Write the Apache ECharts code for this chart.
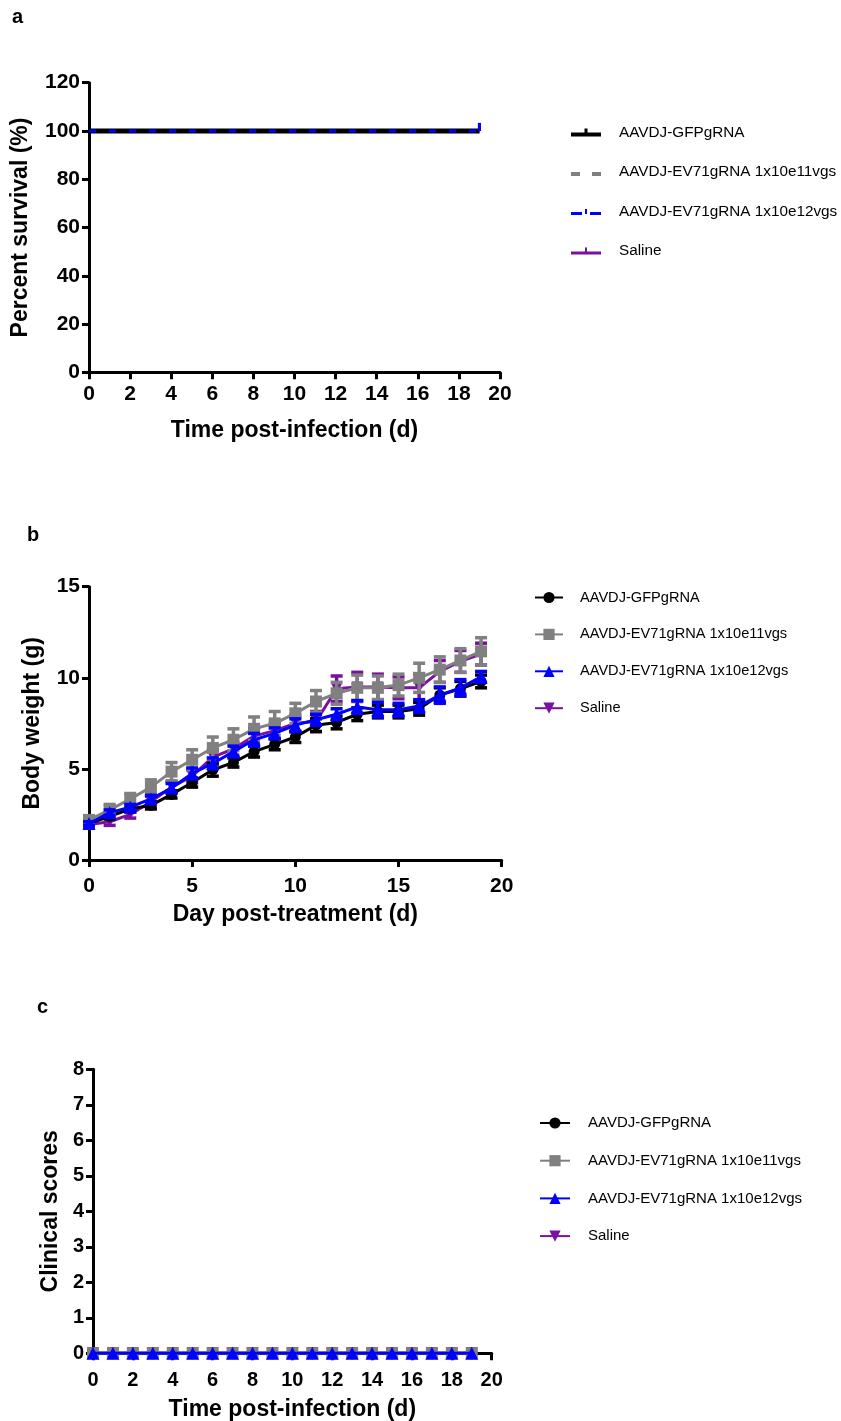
<!DOCTYPE html>
<html><head><meta charset="utf-8">
<script src="https://cdn.jsdelivr.net/npm/echarts@6/dist/echarts.min.js"></script>
<style>html,body{margin:0;padding:0;background:#fff;width:841px;height:1421px;overflow:hidden}
.c{position:absolute;left:0;width:841px}</style></head>
<body>
<div id="pa" class="c" style="top:0;height:480px"></div>
<div id="pb" class="c" style="top:480px;height:480px"></div>
<div id="pc" class="c" style="top:960px;height:461px"></div>
<script>
// ---------- data ----------
const seriesNames = ['AAVDJ-GFPgRNA', 'AAVDJ-EV71gRNA 1x10e11vgs', 'AAVDJ-EV71gRNA 1x10e12vgs', 'Saline'];

// panel a: survival
const survivalDays = [0, 19];
const gfpSurvival = [100, 100];
const ev11Survival = [100, 100];
const ev12Survival = [100, 100];
const salineSurvival = [100, 100];

// panel b: body weight (mean, SEM)
const days = [0, 1, 2, 3, 4, 5, 6, 7, 8, 9, 10, 11, 12, 13, 14, 15, 16, 17, 18, 19];
const gfpWeight = [2.0, 2.4, 2.8, 3.0, 3.6, 4.25, 4.95, 5.35, 5.95, 6.35, 6.75, 7.4, 7.55, 8.0, 8.15, 8.15, 8.3, 9.05, 9.4, 9.8];
const gfpErr = [0.1, 0.15, 0.15, 0.2, 0.2, 0.25, 0.35, 0.25, 0.3, 0.3, 0.3, 0.35, 0.35, 0.35, 0.35, 0.35, 0.35, 0.4, 0.4, 0.35];
const ev11Weight = [2.2, 2.75, 3.35, 4.0, 4.85, 5.5, 6.15, 6.6, 7.2, 7.5, 8.05, 8.7, 9.15, 9.45, 9.45, 9.6, 10.0, 10.45, 10.95, 11.45];
const ev11Err = [0.2, 0.3, 0.3, 0.4, 0.5, 0.55, 0.6, 0.6, 0.65, 0.65, 0.55, 0.6, 0.6, 0.7, 0.65, 0.6, 0.8, 0.7, 0.65, 0.75];
const ev12Weight = [2.0, 2.6, 2.9, 3.35, 3.95, 4.75, 5.3, 5.95, 6.6, 6.95, 7.4, 7.7, 8.0, 8.4, 8.25, 8.25, 8.45, 9.05, 9.45, 10.05];
const ev12Err = [0.1, 0.15, 0.15, 0.2, 0.25, 0.3, 0.3, 0.3, 0.35, 0.3, 0.35, 0.3, 0.3, 0.35, 0.4, 0.35, 0.35, 0.45, 0.45, 0.3];
const salineWeight = [1.95, 2.1, 2.5, 3.2, 4.0, 4.6, 5.65, 6.1, 6.8, 7.1, 7.5, 7.6, 9.4, 9.5, 9.5, 9.45, 9.45, 10.35, 10.9, 11.3];
const salineErr = [0.15, 0.2, 0.2, 0.3, 0.3, 0.35, 0.4, 0.35, 0.4, 0.4, 0.45, 0.55, 0.7, 0.8, 0.7, 0.6, 0.75, 0.6, 0.6, 0.6];

// panel c: clinical scores
const gfpScore = [0, 0, 0, 0, 0, 0, 0, 0, 0, 0, 0, 0, 0, 0, 0, 0, 0, 0, 0, 0];
const ev11Score = [0, 0, 0, 0, 0, 0, 0, 0, 0, 0, 0, 0, 0, 0, 0, 0, 0, 0, 0, 0];
const ev12Score = [0, 0, 0, 0, 0, 0, 0, 0, 0, 0, 0, 0, 0, 0, 0, 0, 0, 0, 0, 0];
const salineScore = [0, 0, 0, 0, 0, 0, 0, 0, 0, 0, 0, 0, 0, 0, 0, 0, 0, 0, 0, 0];

// ---------- style ----------
const FONT = 'Liberation Sans, Arial, sans-serif';
const BLACK = '#000000', GRAY = '#808080', BLUE = '#0000ff', PURPLE = '#7a0fa0';

function label(size, margin) {
  return { color: '#000', fontWeight: 'bold', fontSize: size, fontFamily: FONT, margin: margin };
}
function axis(opts) {
  return Object.assign({
    type: 'value',
    axisLine: { show: true, onZero: false, lineStyle: { color: '#000', width: 3 } },
    axisTick: { show: true, length: 7, lineStyle: { color: '#000', width: 3 } },
    axisLabel: label(21, 9),
    splitLine: { show: false },
    nameLocation: 'middle',
    nameTextStyle: { color: '#000', fontWeight: 'bold', fontSize: 23, fontFamily: FONT }
  }, opts);
}
function legend(data, left, top, gap, itemWidth, itemHeight, fontSize, pad) {
  return {
    orient: 'vertical', left: left, top: top, itemGap: gap, itemWidth: itemWidth, itemHeight: itemHeight,
    data: data, selectedMode: false,
    textStyle: { color: '#000', fontSize: fontSize, fontFamily: FONT, padding: [0, 0, 0, pad] }
  };
}
function panelTitle(t, left, top) {
  return { text: t, left: left, top: top, textStyle: { fontSize: 20, fontWeight: 'bold', fontFamily: FONT, color: '#000' } };
}
function grid(left, top, width, height) {
  return { left: left, top: top, width: width, height: height, containLabel: false, outerBoundsMode: 'none' };
}
function pairs(xs, ys) { return xs.map((x, i) => [x, ys[i]]); }

// ---------- panel a ----------
function survivalSeries(name, ys, color, width, type, z) {
  const data = pairs(survivalDays, ys).map((p, i) => i === ys.length - 1 ? { value: p } : { value: p, symbol: 'none' });
  return {
    name: name, type: 'line', z: z, data: data,
    symbol: 'rect', symbolSize: [3, 8], symbolOffset: [0, -4], showSymbol: true,
    itemStyle: { color: color },
    lineStyle: { color: color, width: width, type: type },
    emphasis: { disabled: true }, animation: false
  };
}
const legendA = [
  { name: seriesNames[0], icon: 'path://M0,4L30,4L30,8L0,8Z M13.5,0L16.5,0L16.5,4L13.5,4Z' },
  { name: seriesNames[1], icon: 'path://M0,4L9,4L9,8L0,8Z M21,4L30,4L30,8L21,8Z M15,0L15.01,0L15.01,0.01Z' },
  { name: seriesNames[2], icon: 'path://M0,4L11,4L11,7L0,7Z M19,4L30,4L30,7L19,7Z M14,1L16,1L16,6L14,6Z M15,0L15.01,0L15.01,0.01Z' },
  { name: seriesNames[3], icon: 'path://M0,4.5L30,4.5L30,7.5L0,7.5Z M14,0.5L16,0.5L16,4.5L14,4.5Z M15,0L15.01,0L15.01,0.01Z M15,8L15.01,8L15.01,7.99Z' }
];
const chartA = echarts.init(document.getElementById('pa'));
chartA.setOption({
  animation: false,
  title: panelTitle('a', 7, 2),
  grid: grid(89, 82.7, 411, 289.6),
  xAxis: axis({ min: 0, max: 20, interval: 2, name: 'Time post-infection (d)', nameGap: 47, axisLabel: label(21, 11) }),
  yAxis: axis({ min: 0, max: 120, interval: 20, name: 'Percent survival (%)', nameGap: 57 }),
  legend: legend(legendA, 566, 120, 24.5, 30, 8, 15.3, 13),
  series: [
    survivalSeries(seriesNames[0], gfpSurvival, BLACK, 5, 'solid', 3),
    survivalSeries(seriesNames[1], ev11Survival, GRAY, 4, [8, 12], 2),
    survivalSeries(seriesNames[2], ev12Survival, BLUE, 3, [7, 13], 4),
    survivalSeries(seriesNames[3], salineSurvival, PURPLE, 4, 'solid', 1)
  ]
});

// ---------- panel b ----------
function errSeries(means, errs, color, z) {
  return {
    type: 'custom', z: z, silent: true,
    data: days.map((d, i) => [d, means[i] - errs[i], means[i] + errs[i]]),
    encode: { x: 0, y: [1, 2] },
    renderItem: function (params, api) {
      const x = api.value(0);
      const lo = api.coord([x, api.value(1)]);
      const hi = api.coord([x, api.value(2)]);
      const hw = 6;
      const st = { stroke: color, lineWidth: 3.5 };
      return { type: 'group', children: [
        { type: 'line', shape: { x1: lo[0], y1: lo[1], x2: hi[0], y2: hi[1] }, style: st },
        { type: 'line', shape: { x1: lo[0] - hw, y1: lo[1], x2: lo[0] + hw, y2: lo[1] }, style: st },
        { type: 'line', shape: { x1: hi[0] - hw, y1: hi[1], x2: hi[0] + hw, y2: hi[1] }, style: st }
      ] };
    }
  };
}
function markerSeries(name, ys, color, symbol, size, rotate, z) {
  return {
    name: name, type: 'line', z: z, data: pairs(days, ys),
    symbol: symbol, symbolSize: size, symbolRotate: rotate, showSymbol: true,
    itemStyle: { color: color }, lineStyle: { color: color, width: 3 },
    emphasis: { disabled: true }
  };
}
const chartB = echarts.init(document.getElementById('pb'));
chartB.setOption({
  animation: false,
  title: panelTitle('b', 22, 40),
  grid: grid(89, 106.7, 412.7, 273.3),
  xAxis: axis({ min: 0, max: 20, interval: 5, name: 'Day post-treatment (d)', nameGap: 43, axisLabel: label(21, 16) }),
  yAxis: axis({ min: 0, max: 15, interval: 5, name: 'Body weight (g)', nameGap: 45 }),
  legend: legend(seriesNames, 529, 105, 21.9, 28, 14, 14.6, 12),
  series: [
    errSeries(salineWeight, salineErr, PURPLE, 1),
    errSeries(gfpWeight, gfpErr, BLACK, 3),
    errSeries(ev11Weight, ev11Err, GRAY, 5),
    errSeries(ev12Weight, ev12Err, BLUE, 7),
    markerSeries(seriesNames[0], gfpWeight, BLACK, 'circle', 11, 0, 4),
    markerSeries(seriesNames[1], ev11Weight, GRAY, 'rect', 12, 0, 6),
    markerSeries(seriesNames[2], ev12Weight, BLUE, 'triangle', 13, 0, 8),
    markerSeries(seriesNames[3], salineWeight, PURPLE, 'triangle', 11, 180, 2)
  ]
});

// ---------- panel c ----------
const chartC = echarts.init(document.getElementById('pc'));
chartC.setOption({
  animation: false,
  title: panelTitle('c', 32, 32),
  grid: grid(93, 109.3, 398.7, 284),
  xAxis: axis({ min: 0, max: 20, interval: 2, name: 'Time post-infection (d)', nameGap: 45, axisLabel: label(20, 17) }),
  yAxis: axis({ min: 0, max: 8, interval: 1, name: 'Clinical scores', nameGap: 31, axisLabel: label(20, 9) }),
  legend: legend(seriesNames, 534, 150.5, 22.7, 30, 14, 15, 13),
  series: [
    markerSeries(seriesNames[0], gfpScore, BLACK, 'circle', 12, 0, 3),
    markerSeries(seriesNames[1], ev11Score, GRAY, 'rect', 12, 0, 4),
    markerSeries(seriesNames[2], ev12Score, BLUE, 'triangle', 13, 0, 5),
    markerSeries(seriesNames[3], salineScore, PURPLE, 'triangle', 12, 180, 2)
  ]
});
</script>
</body></html>
